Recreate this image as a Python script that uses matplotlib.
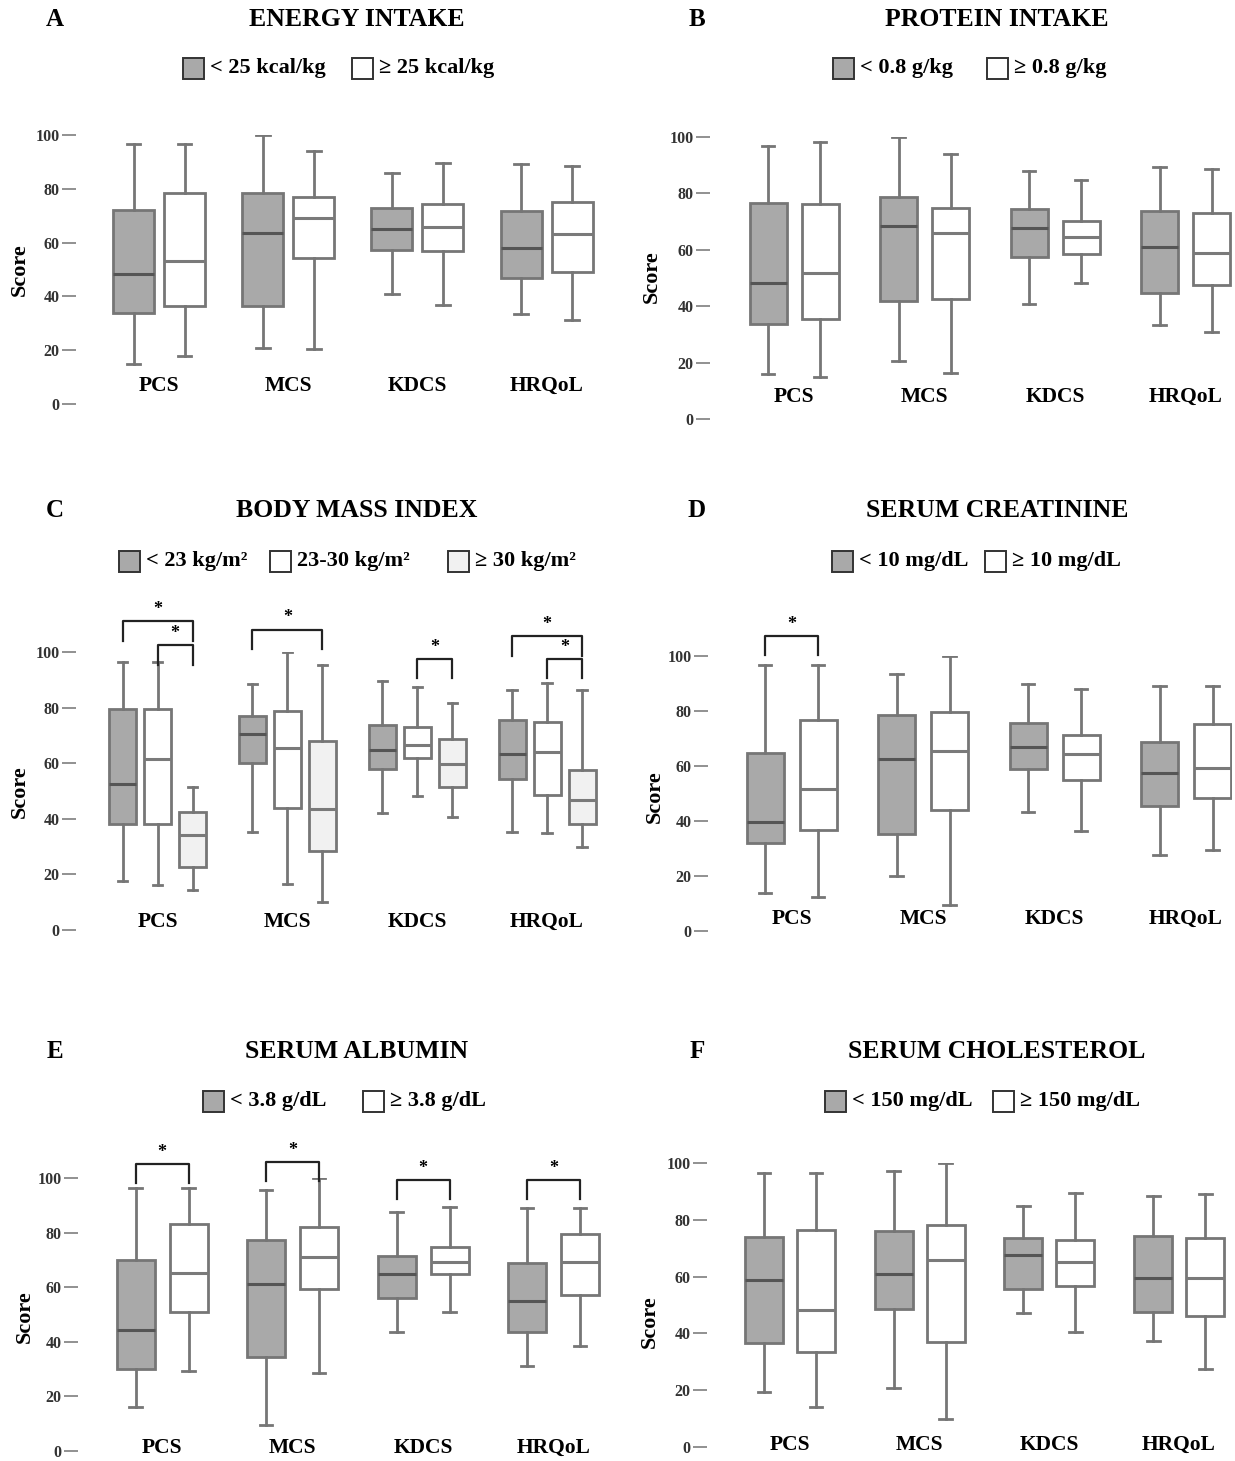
import matplotlib
matplotlib.use("Agg")
import matplotlib.pyplot as plt
from matplotlib.patches import Rectangle

# ---- data ----
domains = ["PCS", "MCS", "KDCS", "HRQoL"]

# each box: (whisker low, Q1, median, Q3, whisker high), per domain
energy_low = [(15, 34, 48.5, 72, 96.5), (21, 36.5, 63.5, 78.3, 100),
              (41, 57.2, 65.1, 72.8, 86), (33.6, 46.8, 57.9, 71.7, 89.2)]
energy_high = [(18, 36.4, 53, 78.5, 96.5), (20.6, 54.3, 69, 77, 94),
               (36.7, 56.8, 65.9, 74.3, 89.7), (31.4, 49, 63.3, 75.2, 88.6)]

protein_low = [(16, 33.8, 48.4, 76.6, 96.7), (20.5, 41.9, 68.4, 78.8, 100),
               (40.7, 57.5, 67.9, 74.3, 87.9), (33.3, 44.8, 60.9, 73.7, 89.3)]
protein_high = [(14.8, 35.6, 51.6, 76.3, 98.3), (16.4, 42.7, 66, 75, 94),
                (48.4, 58.4, 64.7, 70.2, 84.9), (30.8, 47.6, 59, 73, 88.5)]

bmi_low = [(17.6, 38.3, 52.5, 79.6, 96.5), (35.2, 60, 70.5, 76.8, 88.6),
           (42, 57.9, 64.7, 73.7, 89.4), (35.2, 54.4, 63.4, 75.5, 86.2)]
bmi_mid = [(16.2, 38.3, 61.5, 79.6, 96.5), (16.4, 44, 65.4, 78.6, 100),
           (48.3, 61.8, 66.7, 73, 87.5), (34.8, 48.6, 64.2, 74.9, 89)]
bmi_high = [(14.4, 22.8, 34.2, 42.5, 51.4), (10.2, 28.5, 43.6, 68, 95.3),
            (40.5, 51.4, 59.7, 68.8, 81.6), (29.7, 38, 46.8, 57.4, 86.4)]

creat_low = [(13.9, 32, 39.5, 64.7, 96.7), (20, 35.3, 62.5, 78.5, 93.5),
             (43.4, 59, 67, 75.6, 89.7), (27.6, 45.5, 57.6, 68.6, 89.2)]
creat_high = [(12.5, 36.7, 51.6, 76.7, 96.7), (9.5, 44, 65.6, 79.8, 100),
              (36.4, 54.8, 64.2, 71.2, 88), (29.3, 48.2, 59.4, 75.3, 89.2)]

alb_low = [(16, 30, 44.5, 70, 96.5), (9.6, 34.6, 61.1, 77.3, 95.5),
           (43.5, 56, 64.7, 71.3, 87.5), (31.2, 43.6, 55, 69, 88.9)]
alb_high = [(29.3, 51, 65.2, 83.3, 96.5), (28.5, 59.5, 71.2, 82, 100),
            (51, 64.7, 69.2, 74.7, 89.4), (38.3, 57.2, 69.3, 79.5, 89)]

chol_low = [(19.4, 36.5, 58.9, 74, 96.5), (20.7, 48.7, 60.9, 76, 97.2),
            (47.3, 55.5, 67.6, 73.5, 85), (37.5, 47.7, 59.6, 74.2, 88.4)]
chol_high = [(14.2, 33.3, 48.2, 76.5, 96.5), (9.7, 36.8, 65.8, 78, 100),
             (40.4, 56.8, 65, 72.8, 89.4), (27.5, 46.3, 59.4, 73.5, 89.1)]

# significance brackets: (domain index, series a, series b, height)
sig_bmi = [(0, 0, 2, 111), (0, 1, 2, 102.5), (1, 0, 2, 108),
           (2, 1, 2, 97.5), (3, 0, 2, 105.6), (3, 1, 2, 97.5)]
sig_creat = [(0, 0, 1, 107.3)]
sig_alb = [(0, 0, 1, 105.2), (1, 0, 1, 105.8), (2, 0, 1, 99.2), (3, 0, 1, 99.2)]

GRAY, WHITE, LIGHT = "#a9a9a9", "#ffffff", "#f1f1f1"
EDGE = "#767676"
SERIF = "Liberation Serif"

W, H = 1235, 1461
fig = plt.figure(figsize=(W / 100, H / 100), dpi=100)
fig.patch.set_facecolor("white")


def fx(px):
    return px / W


def fy(py):
    return 1 - py / H


panels = [
    dict(letter="A", title="ENERGY INTAKE", series=[energy_low, energy_high],
         fills=[GRAY, WHITE], legend=["< 25 kcal/kg", "\u2265 25 kcal/kg"],
         sig=[], col=0, ax_x=76, y100=135, y0=404, mid0=159, step=129.2,
         sep=51, bw=41, lab_y=6.7, title_y=20, leg_y=68, leg_x=[183, 352], score=(20, 270)),
    dict(letter="B", title="PROTEIN INTAKE", series=[protein_low, protein_high],
         fills=[GRAY, WHITE], legend=["< 0.8 g/kg", "\u2265 0.8 g/kg"],
         sig=[], col=1, ax_x=710, y100=137, y0=419, mid0=794, step=130.5,
         sep=52, bw=37, lab_y=7.8, title_y=20, leg_y=68, leg_x=[833, 987], score=(652, 277)),
    dict(letter="C", title="BODY MASS INDEX", series=[bmi_low, bmi_mid, bmi_high],
         fills=[GRAY, WHITE, LIGHT],
         legend=["< 23 kg/m\u00b2", "23-30 kg/m\u00b2", "\u2265 30 kg/m\u00b2"],
         sig=sig_bmi, col=0, ax_x=76, y100=652, y0=930, mid0=157.6, step=129.8,
         sep=35, bw=27, lab_y=2.9, title_y=511, leg_y=561, leg_x=[119, 270, 448], score=(20, 792)),
    dict(letter="D", title="SERUM CREATININE", series=[creat_low, creat_high],
         fills=[GRAY, WHITE], legend=["< 10 mg/dL", "\u2265 10 mg/dL"],
         sig=sig_creat, col=1, ax_x=708, y100=656, y0=931, mid0=791.5, step=131.5,
         sep=53, bw=37, lab_y=4.4, title_y=511, leg_y=561, leg_x=[832, 985], score=(655, 797)),
    dict(letter="E", title="SERUM ALBUMIN", series=[alb_low, alb_high],
         fills=[GRAY, WHITE], legend=["< 3.8 g/dL", "\u2265 3.8 g/dL"],
         sig=sig_alb, col=0, ax_x=78, y100=1178, y0=1451, mid0=162, step=130.5,
         sep=53, bw=38, lab_y=1.0, title_y=1052, leg_y=1101, leg_x=[203, 363], score=(25, 1317)),
    dict(letter="F", title="SERUM CHOLESTEROL", series=[chol_low, chol_high],
         fills=[GRAY, WHITE], legend=["< 150 mg/dL", "\u2265 150 mg/dL"],
         sig=[], col=1, ax_x=707, y100=1163, y0=1447, mid0=790, step=129.7,
         sep=52, bw=38, lab_y=0.7, title_y=1052, leg_y=1101, leg_x=[825, 993], score=(650, 1322)),
]

for p in panels:
    right_px = 612 if p["col"] == 0 else 1232
    ax = fig.add_axes([fx(p["ax_x"]), fy(p["y0"]), fx(right_px - p["ax_x"]),
                       (p["y0"] - p["y100"]) / H])
    ax.set_xlim((p["ax_x"] - p["mid0"]) / p["step"], (right_px - p["mid0"]) / p["step"])
    ax.set_ylim(0, 100)
    for s in ax.spines.values():
        s.set_visible(False)
    ax.set_xticks([])
    ax.set_yticks(range(0, 101, 20))
    ax.tick_params(axis="y", length=10, width=1.3, color="#888888", pad=2)
    for t in ax.get_yticklabels():
        t.set_fontfamily(SERIF)
        t.set_fontweight("bold")
        t.set_fontsize(11.5)
        t.set_color("#333333")

    n = len(p["series"])
    offs = [(k - (n - 1) / 2) * p["sep"] / p["step"] for k in range(n)]
    width = p["bw"] / p["step"]
    for k, (ser, fc) in enumerate(zip(p["series"], p["fills"])):
        stats = [dict(whislo=v[0], q1=v[1], med=v[2], q3=v[3], whishi=v[4], fliers=[])
                 for v in ser]
        pos = [i + offs[k] for i in range(len(ser))]
        med_c = "#555555" if fc == GRAY else "#7a7a7a"
        ax.bxp(stats, positions=pos, widths=width, patch_artist=True, showfliers=False,
               boxprops=dict(facecolor=fc, edgecolor=EDGE, linewidth=2),
               whiskerprops=dict(color=EDGE, linewidth=2),
               capprops=dict(color=EDGE, linewidth=2),
               medianprops=dict(color=med_c, linewidth=2.2),
               capwidths=width * 0.34, manage_ticks=False)

    for i, d in enumerate(domains):
        ax.text(i, p["lab_y"], d, ha="center", va="center", fontsize=15.5,
                fontfamily=SERIF, fontweight="bold")

    for gi, a, b, h in p["sig"]:
        xa, xb = gi + offs[a], gi + offs[b]
        ax.plot([xa, xa, xb, xb], [h - 7, h, h, h - 7], color="#222222", lw=1.6,
                clip_on=False, solid_joinstyle="round")
        ax.text((xa + xb) / 2, h + 1.2, "*", ha="center", va="bottom", fontsize=13,
                fontfamily=SERIF, fontweight="bold", clip_on=False)

    # panel letter, title and legend
    lx = 55 if p["col"] == 0 else 697
    fig.text(fx(lx), fy(p["title_y"]), p["letter"], ha="center", va="center",
             fontsize=18, fontfamily=SERIF, fontweight="bold")
    cx = 357 if p["col"] == 0 else 997
    fig.text(fx(cx), fy(p["title_y"]), p["title"], ha="center", va="center",
             fontsize=18.5, fontfamily=SERIF, fontweight="bold")
    for x0, lab, fc in zip(p["leg_x"], p["legend"], p["fills"]):
        fig.patches.append(Rectangle((fx(x0), fy(p["leg_y"] + 11)), fx(21), 21 / H,
                                     facecolor=fc, edgecolor="#333333", linewidth=1.4,
                                     transform=fig.transFigure, figure=fig))
        fig.text(fx(x0 + 27), fy(p["leg_y"]), lab, ha="left", va="center",
                 fontsize=16, fontfamily=SERIF, fontweight="bold")
    fig.text(fx(p["score"][0]), fy(p["score"][1]), "Score", rotation=90, ha="center",
             va="center", fontsize=16, fontfamily=SERIF, fontweight="bold")

fig.savefig("out.png", dpi=100, facecolor="white")
